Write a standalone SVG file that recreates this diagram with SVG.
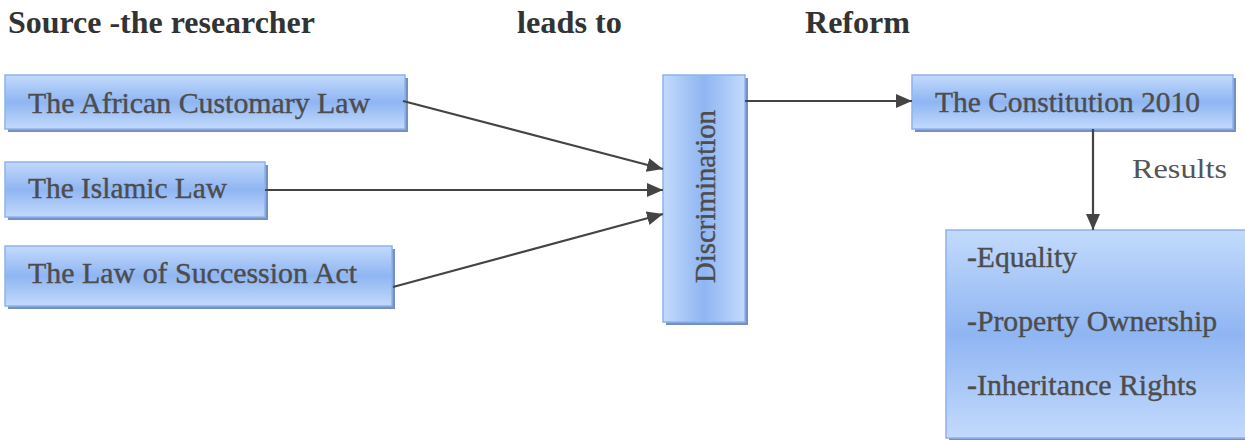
<svg xmlns="http://www.w3.org/2000/svg" width="1245" height="440" viewBox="0 0 1245 440">
<style>
text{font-family:'Liberation Serif','Times New Roman','DejaVu Serif',serif}
.hdr{font-weight:bold;font-size:31px;fill:#333}
.t{font-size:29px;fill:#4d4d4d;stroke:#4d4d4d;stroke-width:0.4}
.r{font-size:28px;fill:#555}
.box{fill:url(#g);stroke:#8db2ee;stroke-width:1.5}
.boxv{fill:url(#gv);stroke:#8db2ee;stroke-width:1.5}
.sh{fill:#7590c0}
.c{stroke:#444;stroke-width:2.2;fill:none;marker-end:url(#ah)}
</style>
<defs>
<linearGradient id="g" x1="0" y1="0" x2="0" y2="1">
<stop offset="0" stop-color="#c3dafc"/>
<stop offset="0.5" stop-color="#8fb5f2"/>
<stop offset="1" stop-color="#c3dafc"/>
</linearGradient>
<linearGradient id="gv" x1="0" y1="0" x2="1" y2="0">
<stop offset="0" stop-color="#c3dafc"/>
<stop offset="0.5" stop-color="#8fb5f2"/>
<stop offset="1" stop-color="#c3dafc"/>
</linearGradient>
<marker id="ah" markerWidth="16" markerHeight="14" refX="16" refY="7" orient="auto" markerUnits="userSpaceOnUse" viewBox="0 0 16 14">
<path d="M0,0 L16,7 L0,14 Z" fill="#444"/>
</marker>
</defs>
<rect width="1245" height="440" fill="#fff"/>
<text class="hdr" x="8" y="33" textLength="307" lengthAdjust="spacingAndGlyphs">Source -the researcher</text>
<text class="hdr" x="517" y="33" textLength="105" lengthAdjust="spacingAndGlyphs">leads to</text>
<text class="hdr" x="805" y="33" textLength="105" lengthAdjust="spacingAndGlyphs">Reform</text>
<g id="african">
<rect class="sh" x="8" y="78" width="400" height="54"/>
<rect class="box" x="5" y="75" width="400" height="54"/>
<text class="t" x="28" y="113" textLength="342" lengthAdjust="spacingAndGlyphs">The African Customary Law</text>
</g>
<g id="islamic">
<rect class="sh" x="8" y="165" width="260" height="55"/>
<rect class="box" x="5" y="162" width="260" height="55"/>
<text class="t" x="28" y="198" textLength="199" lengthAdjust="spacingAndGlyphs">The Islamic Law</text>
</g>
<g id="succession">
<rect class="sh" x="8" y="249" width="387" height="60"/>
<rect class="box" x="5" y="246" width="387" height="60"/>
<text class="t" x="28" y="283" textLength="329" lengthAdjust="spacingAndGlyphs">The Law of Succession Act</text>
</g>
<g id="discrimination">
<rect class="sh" x="666" y="78" width="82" height="247"/>
<rect class="boxv" x="663" y="75" width="82" height="247"/>
<text class="t" transform="translate(715,283) rotate(-90)" textLength="173" lengthAdjust="spacingAndGlyphs">Discrimination</text>
</g>
<g id="constitution">
<rect class="sh" x="915" y="78" width="321" height="54"/>
<rect class="box" x="912" y="75" width="321" height="54"/>
<text class="t" x="935" y="112" textLength="265" lengthAdjust="spacingAndGlyphs">The Constitution 2010</text>
</g>
<g id="results">
<rect class="sh" x="949" y="233" width="300" height="210"/>
<rect class="box" x="946" y="230" width="300" height="208"/>
<text class="t" x="967" y="267" textLength="110" lengthAdjust="spacingAndGlyphs">-Equality</text>
<text class="t" x="967" y="331" textLength="250" lengthAdjust="spacingAndGlyphs">-Property Ownership</text>
<text class="t" x="967" y="395" textLength="230" lengthAdjust="spacingAndGlyphs">-Inheritance Rights</text>
</g>
<text class="r" x="1132" y="178" textLength="95" lengthAdjust="spacingAndGlyphs">Results</text>
<g id="connectors">
<line class="c" x1="403" y1="101" x2="663" y2="169"/>
<line class="c" x1="265" y1="190" x2="663" y2="190"/>
<line class="c" x1="393" y1="287" x2="663" y2="214"/>
<line class="c" x1="745" y1="101" x2="912" y2="101"/>
<line class="c" x1="1093" y1="129" x2="1093" y2="230"/>
</g>
</svg>
